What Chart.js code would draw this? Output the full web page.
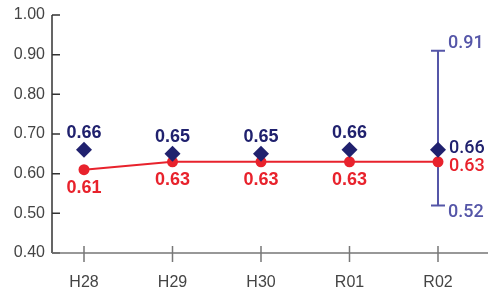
<!DOCTYPE html>
<html>
<head>
<meta charset="utf-8">
<script src="https://cdn.jsdelivr.net/npm/chart.js@4"></script>
<style>
  html, body { margin: 0; padding: 0; background: #fff; }
  #wrap { width: 488px; height: 294px; }
</style>
</head>
<body>
<div id="wrap"><canvas id="js-chart"></canvas></div>
<script>
// Daten
const years = ['H28', 'H29', 'H30', 'R01', 'R02'];
const blueValues = [0.66, 0.65, 0.65, 0.66, 0.66];
const redValues = [0.61, 0.63, 0.63, 0.63, 0.63];
const rangeLow = [null, null, null, null, 0.52];
const rangeHigh = [null, null, null, null, 0.91];
const yTicks = [0.4, 0.5, 0.6, 0.7, 0.8, 0.9, 1.0];

const NAVY = '#20216e';
const RED = '#e8222c';
const PURPLE = '#5556a8';
const FONT = '"Liberation Sans", Arial, sans-serif';

// Fehlerbalken hinter den Punkten
const rangePlugin = {
    id: 'rangeBar',
    beforeDatasetsDraw(chart) {
        const c = chart.ctx, x = chart.scales.x, y = chart.scales.y;
        c.save();
        c.strokeStyle = PURPLE;
        c.lineWidth = 2;
        rangeLow.forEach((lo, i) => {
            if (lo === null) return;
            const px = x.getPixelForValue(i);
            const yl = y.getPixelForValue(lo), yh = y.getPixelForValue(rangeHigh[i]);
            c.beginPath();
            c.moveTo(px, yl); c.lineTo(px, yh);
            c.moveTo(px - 7, yl); c.lineTo(px + 7, yl);
            c.moveTo(px - 7, yh); c.lineTo(px + 7, yh);
            c.stroke();
        });
        c.restore();
    }
};

// Achsen-Striche und Beschriftungen
const labelPlugin = {
    id: 'labels',
    afterDraw(chart) {
        const c = chart.ctx, x = chart.scales.x, y = chart.scales.y;
        const area = chart.chartArea;
        c.save();
        // y-Achse
        c.strokeStyle = '#333';
        c.lineWidth = 1.5;
        c.beginPath();
        c.moveTo(area.left, y.getPixelForValue(1.0));
        c.lineTo(area.left, area.bottom);
        yTicks.forEach(v => {
            const py = y.getPixelForValue(v);
            c.moveTo(area.left, py); c.lineTo(area.left + 8, py);
        });
        c.stroke();
        // x-Achse
        c.strokeStyle = '#777';
        c.beginPath();
        c.moveTo(area.left, area.bottom); c.lineTo(area.right, area.bottom);
        years.forEach((_, i) => {
            const px = x.getPixelForValue(i);
            c.moveTo(px, area.bottom - 7); c.lineTo(px, area.bottom + 9);
        });
        c.stroke();

        c.textBaseline = 'middle';
        years.forEach((_, i) => {
            const px = x.getPixelForValue(i);
            const pb = y.getPixelForValue(blueValues[i]);
            const pr = y.getPixelForValue(redValues[i]);
            if (rangeLow[i] === null) {
                c.textAlign = 'center';
                c.font = 'bold 18px ' + FONT;
                c.fillStyle = NAVY;
                c.fillText(blueValues[i].toFixed(2), px, pb - 17);
                c.fillStyle = RED;
                c.fillText(redValues[i].toFixed(2), px, pr + 18);
            } else {
                c.textAlign = 'left';
                c.font = '500 18px Roboto, ' + FONT;
                c.fillStyle = NAVY;
                c.fillText(blueValues[i].toFixed(2), px + 11, pb - 1);
                c.fillStyle = RED;
                c.fillText(redValues[i].toFixed(2), px + 11, pr + 5);
                c.fillStyle = PURPLE;
                c.fillText(rangeHigh[i].toFixed(2), px + 10, y.getPixelForValue(rangeHigh[i]) - 7);
                c.fillText(rangeLow[i].toFixed(2), px + 10, y.getPixelForValue(rangeLow[i]) + 7);
            }
        });
        c.restore();
    }
};

const ctx = document.getElementById('js-chart').getContext('2d');
const chart = new Chart(ctx, {
    type: 'line',
    data: {
        datasets: [
            {
                label: 'red',
                data: redValues.map((v, i) => ({x: i, y: v})),
                borderColor: RED,
                backgroundColor: RED,
                borderWidth: 2,
                pointRadius: 5.5,
                pointBorderWidth: 0,
                order: 2
            },
            {
                label: 'blue',
                data: blueValues.map((v, i) => ({x: i, y: v})),
                showLine: false,
                backgroundColor: NAVY,
                borderColor: NAVY,
                pointStyle: 'rectRot',
                pointRadius: 8,
                pointBorderWidth: 0,
                order: 1
            }
        ]
    },
    options: {
        responsive: true,
        maintainAspectRatio: false,
        animation: false,
        layout: { autoPadding: false, padding: { top: 15, right: 0, left: 0, bottom: 0 } },
        plugins: { legend: { display: false }, tooltip: { enabled: false } },
        scales: {
            x: {
                type: 'linear',
                min: -0.3616,
                max: 4.565,
                afterBuildTicks: s => { s.ticks = years.map((_, i) => ({value: i})); },
                afterFit: s => { s.height = 41; s.paddingLeft = 0; s.paddingRight = 0; },
                grid: { display: false, drawTicks: false },
                border: { display: false },
                ticks: {
                    callback: v => years[v],
                    padding: 20,
                    color: '#444',
                    font: { family: FONT, size: 16 },
                    maxRotation: 0
                }
            },
            y: {
                min: 0.4,
                max: 1.0,
                afterBuildTicks: s => { s.ticks = yTicks.map(v => ({value: v})); },
                afterFit: s => { s.width = 52; s.paddingTop = 0; s.paddingBottom = 0; },
                grid: { display: false, drawTicks: false },
                border: { display: false },
                ticks: {
                    callback: v => v.toFixed(2),
                    padding: 7,
                    color: '#444',
                    font: { family: FONT, size: 16 }
                }
            }
        }
    },
    plugins: [rangePlugin, labelPlugin]
});
</script>
</body>
</html>
